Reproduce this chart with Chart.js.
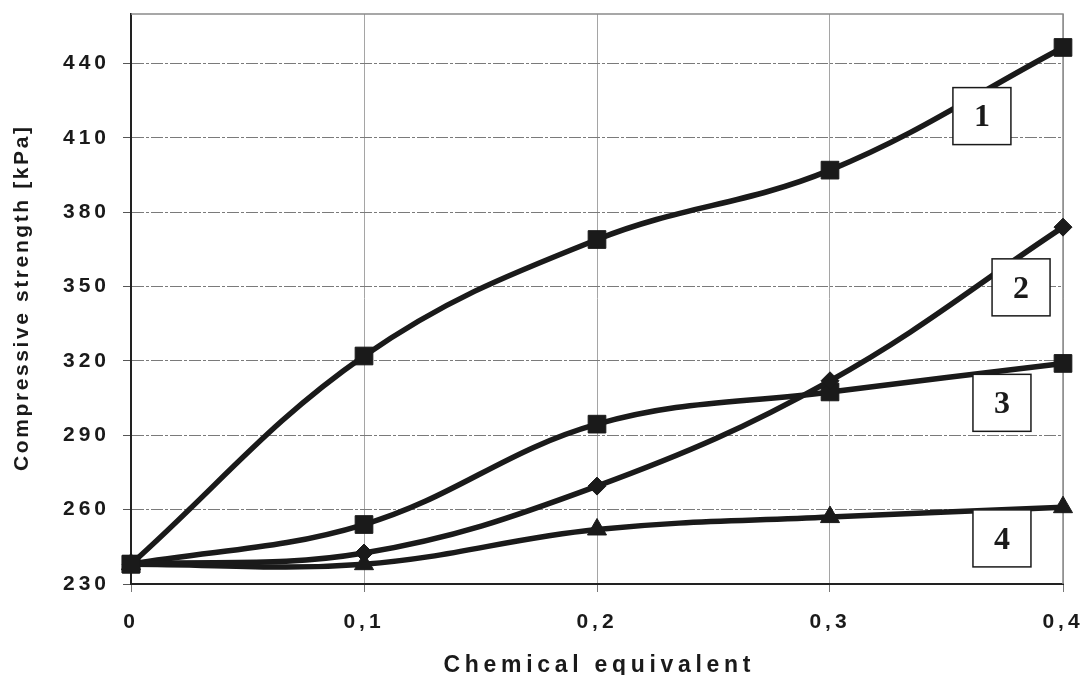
<!DOCTYPE html>
<html>
<head>
<meta charset="utf-8">
<script src="https://cdn.jsdelivr.net/npm/chart.js@4.4.1/dist/chart.umd.min.js"></script>
<style>
  html, body { margin: 0; padding: 0; background: #fff; }
  #wrap { width: 1080px; height: 675px; position: relative; }
</style>
</head>
<body>
<div id="wrap"><canvas id="c" width="1080" height="675"></canvas></div>
<script>
// ---- data ----
const categories = [0, 0.1, 0.2, 0.3, 0.4];
const series1 = [238, 322, 369, 397, 446.5];
const series2 = [238, 242.5, 269.5, 312, 374];
const series3 = [238, 254, 294.5, 307.5, 319];
const series4 = [238, 238, 252, 257, 261];
const yTickValues = [230, 260, 290, 320, 350, 380, 410, 440];
const xTitle = 'Chemical equivalent';
const yTitle = 'Compressive strength [kPa]';
const labelNames = ['1', '2', '3', '4'];
const labelAtX = [0.3652, 0.382, 0.3738, 0.3738];
const labelAtY = [418.8, 349.7, 303.1, 248.4];

const TICK_SPACING = '4px';
const INK = '#1a1a1a';

function toPoints(arr) { return categories.map((c, i) => ({ x: c, y: arr[i] })); }

const overlay = {
  id: 'overlay',
  beforeLayout(chart) { chart.ctx.letterSpacing = TICK_SPACING; },
  beforeDraw(chart) { chart.ctx.letterSpacing = TICK_SPACING; },
  beforeDatasetsDraw(chart) {
    const { ctx, chartArea: a } = chart;
    ctx.save();
    ctx.strokeStyle = '#8a8a8a';
    ctx.lineWidth = 1.5;
    ctx.beginPath();
    ctx.moveTo(a.left, a.top); ctx.lineTo(a.right, a.top); ctx.lineTo(a.right, a.bottom);
    ctx.stroke();
    ctx.restore();
  },
  afterDatasetsDraw(chart) {
    const { ctx } = chart;
    const xs = chart.scales.x, ys = chart.scales.y;
    ctx.save();
    ctx.letterSpacing = '0px';
    for (let i = 0; i < labelNames.length; i++) {
      const cx = xs.getPixelForValue(labelAtX[i]);
      const cy = ys.getPixelForValue(labelAtY[i]);
      const w = 58, h = 57;
      ctx.fillStyle = '#fff';
      ctx.fillRect(cx - w / 2, cy - h / 2, w, h);
      ctx.strokeStyle = INK;
      ctx.lineWidth = 1.5;
      ctx.strokeRect(cx - w / 2, cy - h / 2, w, h);
      ctx.fillStyle = INK;
      ctx.font = 'bold 32px "Liberation Serif", "Times New Roman", serif';
      ctx.textAlign = 'center';
      ctx.textBaseline = 'middle';
      ctx.fillText(labelNames[i], cx, cy + 2);
    }
    ctx.restore();
  },
  afterDraw(chart) {
    const { ctx, chartArea: a } = chart;
    ctx.save();
    ctx.fillStyle = INK;
    // x title
    ctx.font = 'bold 23px "Liberation Sans", Arial, sans-serif';
    ctx.letterSpacing = '4.7px';
    ctx.textAlign = 'left';
    ctx.textBaseline = 'alphabetic';
    let w = ctx.measureText(xTitle).width - 4.7;
    ctx.fillText(xTitle, (a.left + a.right) / 2 - w / 2, 672);
    // y title
    ctx.font = 'bold 21px "Liberation Sans", Arial, sans-serif';
    ctx.letterSpacing = '2.6px';
    w = ctx.measureText(yTitle).width - 2.6;
    ctx.translate(28, (a.top + a.bottom) / 2);
    ctx.rotate(-Math.PI / 2);
    ctx.fillText(yTitle, -w / 2, 0);
    ctx.restore();
  }
};

const common = {
  borderColor: INK,
  backgroundColor: INK,
  pointBackgroundColor: INK,
  pointBorderColor: INK,
  pointBorderWidth: 1,
  borderWidth: 5.5,
  tension: 0.38,
  clip: false,
  fill: false
};

new Chart(document.getElementById('c'), {
  type: 'line',
  data: {
    datasets: [
      Object.assign({ label: '1', data: toPoints(series1), pointStyle: 'rect', pointRadius: 12.5 }, common),
      Object.assign({ label: '2', data: toPoints(series2), pointStyle: 'rectRot', pointRadius: 9 }, common),
      Object.assign({ label: '3', data: toPoints(series3), pointStyle: 'rect', pointRadius: 12.5 }, common),
      Object.assign({ label: '4', data: toPoints(series4), pointStyle: 'triangle', pointRadius: 11 }, common)
    ]
  },
  options: {
    responsive: false,
    animation: false,
    events: [],
    layout: { padding: { left: 0, top: 14, right: 17, bottom: 0 } },
    plugins: { legend: { display: false }, tooltip: { enabled: false }, title: { display: false } },
    scales: {
      x: {
        type: 'linear',
        min: 0, max: 0.4,
        ticks: {
          stepSize: 0.1,
          color: INK,
          padding: 18,
          maxRotation: 0,
          font: { family: '"Liberation Sans", Arial, sans-serif', size: 21, weight: 'bold' },
          callback: (v) => (v === 0 ? '0' : v.toFixed(1).replace('.', ','))
        },
        grid: { color: '#a5a5a5', lineWidth: 1, tickLength: 8, tickColor: '#777' },
        border: { color: '#222', width: 2 },
        afterFit(scale) { scale.height = 91; scale.paddingLeft = 0; scale.paddingRight = 0; }
      },
      y: {
        min: 230, max: 460,
        afterBuildTicks(scale) { scale.ticks = yTickValues.map(v => ({ value: v })); },
        ticks: {
          color: INK,
          padding: 13,
          font: { family: '"Liberation Sans", Arial, sans-serif', size: 21, weight: 'bold' },
          callback: (v) => String(v)
        },
        grid: { color: '#7a7a7a', lineWidth: 1, tickLength: 8, tickColor: '#555' },
        border: { color: '#222', width: 2, dash: [12, 2, 3, 2] },
        afterFit(scale) { scale.width = 131; scale.paddingTop = 0; scale.paddingBottom = 0; }
      }
    }
  },
  plugins: [overlay]
});
</script>
</body>
</html>
